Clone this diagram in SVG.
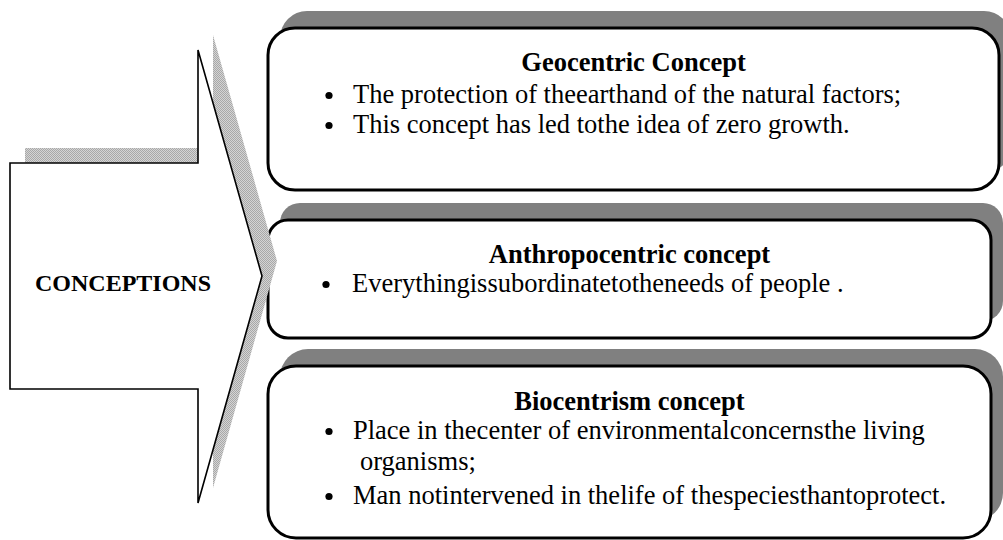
<svg xmlns="http://www.w3.org/2000/svg" width="1003" height="540" viewBox="0 0 1003 540">
<defs>
<pattern id="dither" width="2" height="2" patternUnits="userSpaceOnUse">
<rect width="2" height="2" fill="#d4d4d4"/>
<rect width="1" height="1" fill="#a8a8a8"/>
<rect x="1" y="1" width="1" height="1" fill="#a8a8a8"/>
</pattern>
<style>
.shadow{fill:#808080;stroke:none}
.box{fill:#ffffff;stroke:#000000;stroke-width:3}
.title{font-family:"Liberation Serif","Times New Roman",serif;font-weight:bold;font-size:26.5px;fill:#000;text-anchor:middle}
.body{font-family:"Liberation Serif","Times New Roman",serif;font-size:26.5px;fill:#000}
.dot{fill:#000}
.big{font-family:"Liberation Serif","Times New Roman",serif;font-weight:bold;font-size:24px;fill:#000}
</style>
</defs>
<rect width="1003" height="540" fill="#ffffff"/>

<g id="geocentric">
<rect class="shadow" x="280" y="11" width="731" height="162" rx="27"/>
<rect class="box" x="268" y="28" width="731" height="162" rx="27"/>
<text class="title" x="633.5" y="71">Geocentric Concept</text>
<circle class="dot" cx="329" cy="95.5" r="3.6"/>
<text class="body" x="353" y="103">The protection of theearthand of the natural factors;</text>
<circle class="dot" cx="329" cy="125.5" r="3.6"/>
<text class="body" x="353" y="133">This concept has led tothe idea of zero growth.</text>
</g>

<g id="anthropocentric">
<rect class="shadow" x="280" y="203" width="723" height="118" rx="20"/>
<rect class="box" x="268" y="220" width="723" height="118" rx="20"/>
<text class="title" x="629.5" y="263">Anthropocentric concept</text>
<circle class="dot" cx="326" cy="284.5" r="3.6"/>
<text class="body" x="352" y="292">Everythingissubordinatetotheneeds of people .</text>
</g>

<g id="biocentrism">
<rect class="shadow" x="280" y="349" width="723" height="172" rx="28"/>
<rect class="box" x="268" y="366" width="723" height="172" rx="28"/>
<text class="title" x="629.5" y="410">Biocentrism concept</text>
<circle class="dot" cx="329" cy="431.5" r="3.6"/>
<text class="body" x="353" y="439">Place in thecenter of environmentalconcernsthe living</text>
<text class="body" x="360" y="470">organisms;</text>
<circle class="dot" cx="329" cy="496.5" r="3.6"/>
<text class="body" x="353" y="504">Man notintervened in thelife of thespeciesthantoprotect.</text>
</g>

<g id="conceptions">
<polygon points="25,148 213,148 213,35 277,261 213,488 213,374 25,374" fill="url(#dither)"/>
<polygon points="10,163 198,163 198,50 262,276 198,503 198,389 10,389" fill="#ffffff" stroke="#000000" stroke-width="1.6" stroke-linejoin="miter"/>
<text class="big" x="35" y="291">CONCEPTIONS</text>
</g>

<g id="connectors"/>
</svg>
